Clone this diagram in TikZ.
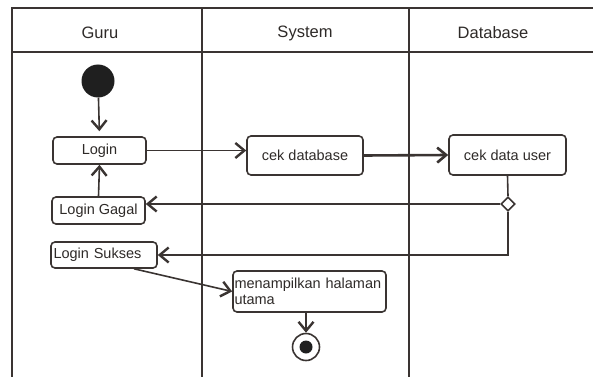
\documentclass[tikz,border=0pt]{standalone}
\usepackage{fontspec}
\setmainfont{Liberation Sans}
\usetikzlibrary{arrows.meta,shapes.geometric}
\definecolor{ln}{HTML}{3A3432}
\definecolor{tx}{HTML}{2E2A28}
\begin{document}
\begin{tikzpicture}[x=1pt,y=-1pt,
  lane/.style={draw=ln,line width=1.6pt},
  act/.style={draw=ln,line width=1.6pt,rounded corners=4pt,inner sep=0pt,text=tx,font=\fontsize{14.5}{16}\selectfont},
  head/.style={text=tx,font=\fontsize{16.5}{19}\selectfont},
  flow/.style={draw=ln,line width=1.6pt,-{Straight Barb[length=9pt,width=15pt,line width=2.4pt]}},
  thick flow/.style={draw=ln,line width=2.6pt,-{Straight Barb[length=9pt,width=15pt,line width=2.6pt]}}]
\useasboundingbox (0,0) rectangle (593,377);
% swimlanes
\draw[lane] (593,8) -- (12,8) -- (12,377);
\draw[lane] (12,52) -- (593,52);
\draw[lane] (202,8) -- (202,377);
\draw[lane] (409,8) -- (409,377);
\node[head] (hguru) at (100,33) {Guru};
\node[head] (hsys) at (305,33) {System};
\node[head] (hdb) at (493,33) {Database};
% nodes
\node[circle,fill=black!88,minimum size=33pt,inner sep=0pt] (start) at (98,81) {};
\node[act,minimum width=93pt,minimum height=27pt] (login) at (99.5,150.5) {Login};
\node[act,minimum width=116pt,minimum height=39pt] (cekdb) at (305,155.5) {cek database};
\node[act,minimum width=117pt,minimum height=40pt] (cekuser) at (507.5,155) {cek data user};
\node[diamond,draw=ln,line width=1.6pt,fill=white,minimum size=14pt,inner sep=0pt] (dec) at (508,204) {};
\node[act,minimum width=93pt,minimum height=27pt] (gagal) at (98.5,210.5) {Login Gagal};
\node[act,minimum width=106pt,minimum height=26pt,text width=101pt,align=left] (sukses) at (104,255) {Login Sukses};
\node[act,minimum width=153pt,minimum height=41pt,text width=150pt,align=left,font=\fontsize{14.5}{15.5}\selectfont] (menu) at (309.5,291.5) {menampilkan halaman\\utama};
\node[circle,draw=ln,line width=1.6pt,fill=white,minimum size=27pt,inner sep=0pt] (end) at (306,347) {};
\node[circle,fill=black!88,minimum size=13pt,inner sep=0pt] (endin) at (end.center) {};
% flows
\draw[flow,shorten >=5pt] (start) -- (login.north);
\draw[flow] (login.east) -- (login.east -| cekdb.west);
\draw[thick flow] (cekdb.east) -- (cekuser.west);
\draw[draw=ln,line width=1.6pt] (cekuser.south) -- (dec.north);
\draw[flow] (dec.west) -- (dec.west -| gagal.east);
\draw[flow] (dec.south) |- (sukses.east);
\draw[flow] (gagal.north) -- (login.south);
\draw[flow] ([xshift=30pt]sukses.south) -- (menu.west);
\draw[flow] (menu.south -| end.north) -- (end.north);
\end{tikzpicture}
\end{document}
